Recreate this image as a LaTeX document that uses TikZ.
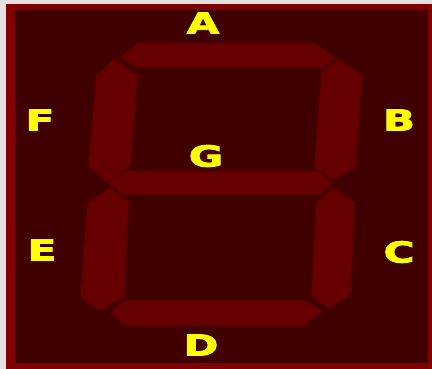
\documentclass[tikz,border=0pt]{standalone}
\usepackage{fontspec}
\setmainfont{DejaVu Sans}
\newfontfamily\lblfont[FakeBold=2.5]{DejaVu Sans Bold}
\definecolor{frame}{HTML}{800000}
\definecolor{panel}{HTML}{400000}
\definecolor{segfill}{HTML}{660000}
\definecolor{segline}{HTML}{4C0000}
\definecolor{lbl}{HTML}{FFFF00}
\definecolor{strip}{HTML}{E4E0E0}
\begin{document}
\begin{tikzpicture}[x=1pt,y=-1pt,
  seg/.style={fill=segfill,draw=segline,line width=1.2pt,line join=round},
  lab/.style={text=lbl,font=\fontsize{29}{29}\lblfont,xscale=1.45,inner sep=0pt}]
\useasboundingbox (0,0) rectangle (432,369);
\fill[strip] (0,0) rectangle (432,369);
\fill[frame] (6,4) rectangle (432,369);
\fill[panel] (15,10) rectangle (428,363);
% segments
\draw[seg] (120,57) -- (137,43) -- (316,43) -- (337,58) -- (322,68) -- (136,68) -- cycle; % A
\draw[seg] (114,59) -- (96,75) -- (88,167) -- (107,182) -- (131,167) -- (138,75) -- cycle; % F
\draw[seg] (339,59) -- (321,72) -- (314,167) -- (333,181) -- (356,167) -- (363,75) -- cycle; % B
\draw[seg] (107,183) -- (123,171) -- (320,171) -- (333,183) -- (320,195) -- (123,195) -- cycle; % G
\draw[seg] (110,187) -- (87,203) -- (80,297) -- (100,311) -- (125,297) -- (129,201) -- cycle; % E
\draw[seg] (334,187) -- (316,202) -- (311,295) -- (329,309) -- (351,295) -- (355,202) -- cycle; % C
\draw[seg] (110,312) -- (125,300) -- (305,300) -- (323,311) -- (305,326) -- (125,326) -- cycle; % D
% labels
\node[lab] (lA) at (203,23) {A};
\node[lab] (lB) at (399,120) {B};
\node[lab] (lC) at (399,252) {C};
\node[lab] (lD) at (201,345) {D};
\node[lab] (lE) at (42,250) {E};
\node[lab] (lF) at (40,120) {F};
\node[lab] (lG) at (206,156) {G};
\end{tikzpicture}
\end{document}
